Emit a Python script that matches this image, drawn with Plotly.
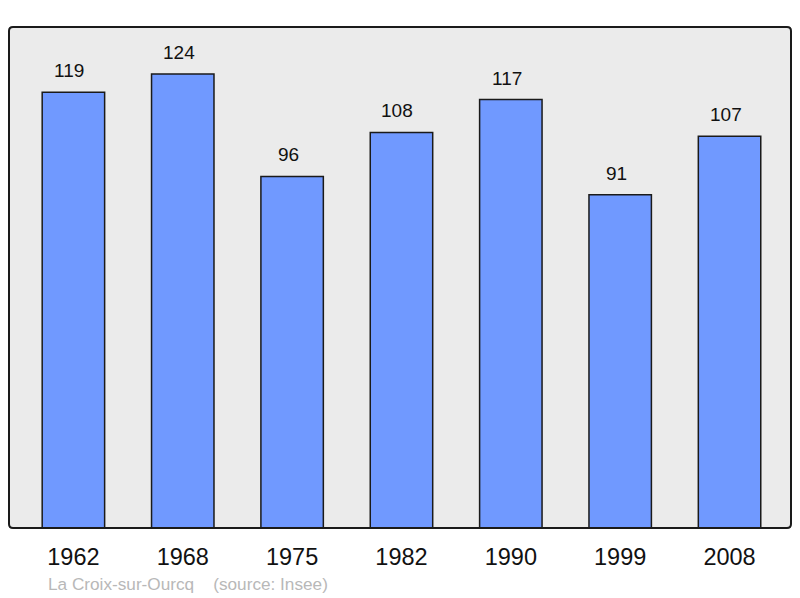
import plotly.graph_objects as go

years = ["1962", "1968", "1975", "1982", "1990", "1999", "2008"]
population = [119, 124, 96, 108, 117, 91, 107]
caption = "La Croix-sur-Ourcq    (source: Insee)"

fig = go.Figure()
fig.add_trace(go.Bar(
    x=years, y=population, width=0.571,
    marker=dict(color="#7099ff", line=dict(color="#1a1a1a", width=1.5)),
    hoverinfo="skip",
))

for i, v in enumerate(population):
    fig.add_annotation(x=i, y=v, text=str(v), showarrow=False,
                       yanchor="bottom", yshift=9, xshift=-4,
                       font=dict(family="Liberation Sans, Arial", size=19, color="#111111"))

fig.add_annotation(xref="paper", yref="paper", x=(46 - 9) / 782, y=-(584 - 528) / 501,
                   xanchor="left", yanchor="middle", showarrow=False, text=caption,
                   font=dict(family="Liberation Sans, Arial", size=17.2, color="#b8b8b8"))

# rounded frame
rx, ry = 4 / 782, 4 / 501
path = (f"M {rx},0 L {1-rx},0 Q 1,0 1,{ry} L 1,{1-ry} Q 1,1 {1-rx},1 "
        f"L {rx},1 Q 0,1 0,{1-ry} L 0,{ry} Q 0,0 {rx},0 Z")
fig.add_shape(type="path", xref="paper", yref="paper", path=path,
              line=dict(color="#1a1a1a", width=2), fillcolor="rgba(0,0,0,0)", layer="above")

fig.update_layout(
    width=800, height=598,
    margin=dict(l=9, r=9, t=27, b=70),
    paper_bgcolor="white", plot_bgcolor="#ebebeb",
    showlegend=False,
    xaxis=dict(type="category", range=[-0.589, 6.562], showgrid=False, zeroline=False, ticks="",
               ticklabelstandoff=12,
               tickfont=dict(family="Liberation Sans, Arial", size=23.5, color="#111111"),
               fixedrange=True),
    yaxis=dict(range=[0, 136.8], showgrid=False, zeroline=False, showticklabels=False,
               ticks="", fixedrange=True),
)

fig.write_html("out.html", config={"displayModeBar": False},
               post_script="document.body.style.margin='0';document.body.style.padding='0';")
